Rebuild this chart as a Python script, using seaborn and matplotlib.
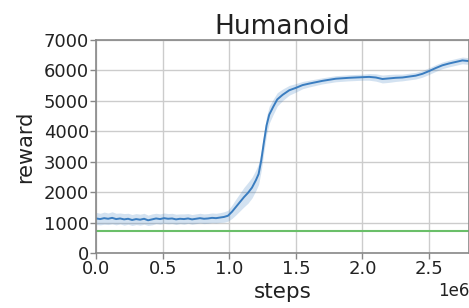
import numpy as np
import pandas as pd
import seaborn as sns
import matplotlib.pyplot as plt

# values (steps in millions)
steps_m = [0.00, 0.03, 0.06, 0.09, 0.12, 0.15, 0.18, 0.21, 0.24, 0.27,
           0.30, 0.33, 0.36, 0.39, 0.42, 0.45, 0.48, 0.51, 0.54, 0.57,
           0.60, 0.63, 0.66, 0.69, 0.72, 0.75, 0.78, 0.81, 0.84, 0.87,
           0.90, 0.93, 0.96, 0.99,
           1.02, 1.05, 1.08, 1.11, 1.14, 1.17, 1.20, 1.22, 1.24, 1.26,
           1.28, 1.30, 1.33, 1.36, 1.40, 1.45, 1.50, 1.55, 1.60, 1.70,
           1.80, 1.90, 2.00, 2.05, 2.10, 2.15, 2.20, 2.25, 2.30, 2.35,
           2.40, 2.45, 2.50, 2.55, 2.60, 2.65, 2.70, 2.75, 2.80]
reward_mean = [1140, 1120, 1150, 1130, 1160, 1120, 1140, 1110, 1130, 1090,
               1120, 1100, 1130, 1080, 1110, 1140, 1120, 1150, 1130, 1140,
               1110, 1130, 1120, 1140, 1110, 1130, 1150, 1130, 1140, 1160,
               1150, 1170, 1190, 1230,
               1360, 1520, 1680, 1840, 1980, 2150, 2400, 2600, 3050, 3650,
               4200, 4550, 4810, 5050, 5200, 5350, 5430, 5520, 5570, 5660,
               5730, 5760, 5780, 5790, 5770, 5720, 5740, 5760, 5770, 5800,
               5830, 5890, 5980, 6080, 6170, 6230, 6280, 6330, 6310]
reward_spread = [200, 190, 200, 190, 200, 190, 180, 190, 180, 180,
                 180, 180, 180, 170, 180, 170, 170, 170, 170, 170,
                 170, 160, 170, 160, 160, 160, 160, 160, 160, 160,
                 160, 160, 170, 180,
                 220, 260, 290, 320, 340, 340, 340, 340, 330, 320,
                 300, 280, 250, 220, 190, 160, 140, 120, 110, 100,
                 100, 100, 100, 110, 120, 130, 130, 120, 110, 110,
                 110, 110, 110, 110, 110, 110, 110, 110, 110]
baseline = 730

df = pd.DataFrame({"steps": np.array(steps_m) * 1e6,
                   "reward": reward_mean})
lower = np.array(reward_mean) - np.array(reward_spread)
upper = np.array(reward_mean) + np.array(reward_spread)

sns.set_style("whitegrid")
plt.rcParams["font.family"] = ["DejaVu Sans"]
text_col = "#222222"
blue = "#3a7dc0"

fig = plt.figure(figsize=(4.69, 3.08), dpi=100)
ax = fig.add_axes([0.205, 0.178, 0.795, 0.692])

ax.fill_between(df["steps"], lower, upper, color=blue, alpha=0.22, lw=0)
sns.lineplot(data=df, x="steps", y="reward", ax=ax, color=blue, linewidth=1.4)
ax.axhline(baseline, color="#6abf69", linewidth=1.5)

ax.set_xlim(0, 2.8e6)
ax.set_ylim(0, 7000)
ax.set_yticks(range(0, 7001, 1000))
ax.set_xticks([0, 0.5e6, 1.0e6, 1.5e6, 2.0e6, 2.5e6])
ax.ticklabel_format(axis="x", style="sci", scilimits=(0, 0))
ax.xaxis.get_offset_text().set_fontsize(12)
ax.xaxis.get_offset_text().set_color(text_col)

ax.grid(True, color="#cccccc", linewidth=1)
for s in ax.spines.values():
    s.set_color("#888888")
    s.set_linewidth(1.2)
ax.tick_params(axis="both", which="both", length=4, width=1, color="#888888",
               labelsize=13, labelcolor=text_col, bottom=True, left=True, pad=1)

ax.set_title("Humanoid", fontsize=19, color=text_col, pad=3)
ax.set_xlabel("steps", fontsize=15.5, color=text_col, labelpad=3)
ax.set_ylabel("reward", fontsize=15, color=text_col, labelpad=6)

plt.savefig("out.png", dpi=100)
